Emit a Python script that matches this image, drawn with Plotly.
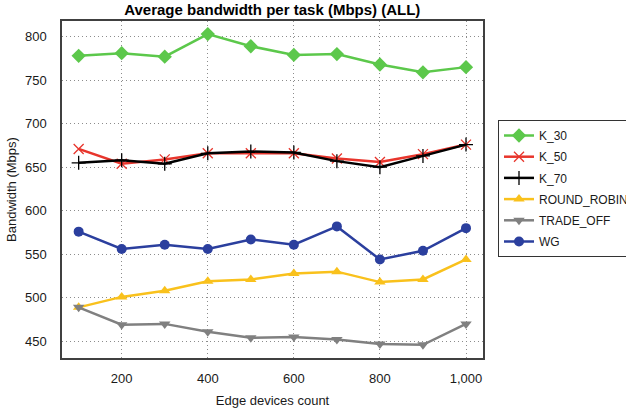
import plotly.graph_objects as go

# Edge device counts on the x axis
devices = [100, 200, 300, 400, 500, 600, 700, 800, 900, 1000]

# Average bandwidth per task (Mbps) for each scheduling strategy
k_30 = [778, 781, 777, 803, 789, 779, 780, 768, 759, 765]
k_50 = [671, 654, 659, 666, 666, 666, 660, 656, 665, 676]
k_70 = [655, 658, 654, 666, 668, 667, 657, 650, 663, 676]
round_robin = [489, 501, 508, 519, 521, 528, 530, 518, 521, 544]
trade_off = [489, 469, 470, 461, 454, 455, 452, 447, 446, 470]
wg = [576, 556, 561, 556, 567, 561, 582, 544, 554, 580]

x_ticks = [200, 400, 600, 800, 1000]
x_tick_labels = ["200", "400", "600", "800", "1,000"]
y_ticks = [450, 500, 550, 600, 650, 700, 750, 800]

FONT = "Liberation Sans, Arial, Helvetica, sans-serif"

series = [
    ("K_30", k_30, "#5cc84b", "diamond", 11, False),
    ("K_50", k_50, "#e8352c", "x-thin-open", 10, True),
    ("K_70", k_70, "#000000", "cross-thin-open", 10, True),
    ("ROUND_ROBIN", round_robin, "#f9c11c", "triangle-up", 10, False),
    ("TRADE_OFF", trade_off, "#808080", "triangle-down", 10, False),
    ("WG", wg, "#2b3f9e", "circle", 10, False),
]

fig = go.Figure()
for name, vals, color, symbol, size, thin in series:
    marker = dict(symbol=symbol, size=size, color=color)
    if thin:
        marker["line"] = dict(color=color, width=1.3)
    fig.add_trace(go.Scatter(
        x=devices, y=vals, name=name, mode="lines+markers",
        line=dict(color=color, width=2.5),
        marker=marker, legendgroup=name,
    ))

grid = dict(showgrid=True, gridcolor="#8c8c8c", griddash="1px,3px", gridwidth=1)

fig.update_layout(
    width=626, height=410,
    margin=dict(l=62, r=143, t=21, b=52, autoexpand=False),
    paper_bgcolor="white", plot_bgcolor="white",
    font=dict(family=FONT, size=13, color="#1a1a1a"),
    title=dict(text="<b>Average bandwidth per task (Mbps) (ALL)</b>",
               font=dict(size=15, color="#000000"),
               x=0.435, xanchor="center", y=0.977, yanchor="middle"),
    legend=dict(
        xref="container", yref="container",
        x=498 / 626, y=1 - 120 / 410, xanchor="left", yanchor="top",
        traceorder="grouped", tracegroupgap=2.2,
        bordercolor="#333333", borderwidth=1, bgcolor="white",
        font=dict(size=12, color="#1a1a1a"),
    ),
    showlegend=True,
)

fig.update_xaxes(
    range=[61.3, 1039.5], tickvals=x_ticks, ticktext=x_tick_labels,
    ticks="", ticklabelstandoff=8,
    showline=True, mirror=True, linecolor="#404040", linewidth=1.5,
    zeroline=False,
    title=dict(text="Edge devices count", standoff=11, font=dict(size=13)),
    **grid,
)
fig.update_yaxes(
    range=[430.8, 818.0], tickvals=y_ticks,
    ticks="", ticklabelstandoff=11,
    showline=True, mirror=True, linecolor="#404040", linewidth=1.5,
    zeroline=False,
    title=dict(text="Bandwidth (Mbps)", standoff=5, font=dict(size=13)),
    **grid,
)

fig.write_html("out.html")
